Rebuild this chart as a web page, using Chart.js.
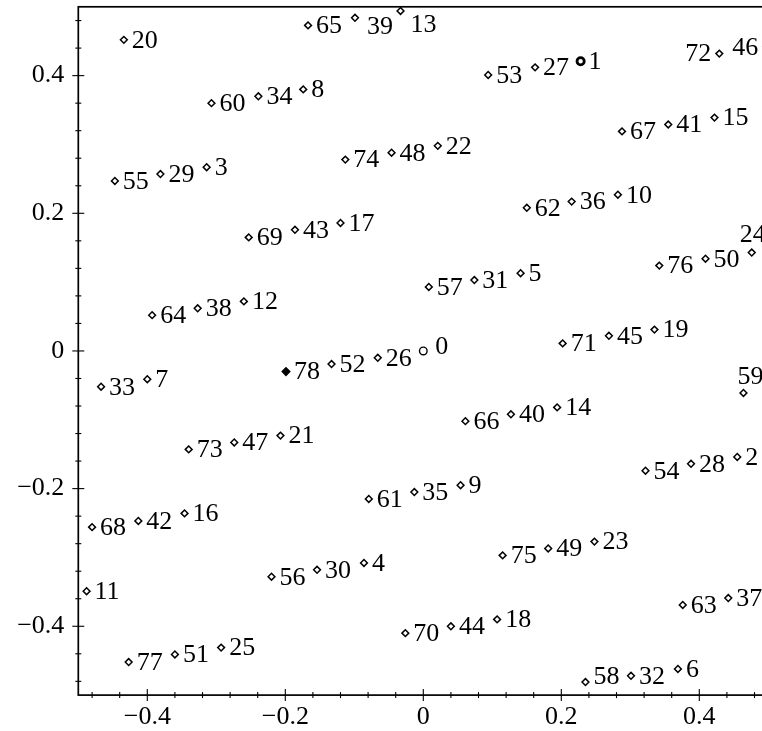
<!DOCTYPE html>
<html>
<head>
<meta charset="utf-8">
<script src="https://cdn.jsdelivr.net/npm/chart.js@4.4.1/dist/chart.umd.min.js"></script>
<style>
  html, body { margin: 0; padding: 0; overflow: hidden; background: #fff; }
  canvas { display: block; }
</style>
</head>
<body>
<canvas id="plot" width="800" height="731"></canvas>
<script>
// point n sits at (xs[n], ys[n]); its label is n
const xs = [
   0.000,  0.228,  0.455, -0.314, -0.086,  0.141,  0.369, -0.400, -0.174,  0.054,
   0.282, -0.488, -0.260, -0.033,  0.194,  0.422, -0.346, -0.120,  0.107,  0.335,
  -0.434, -0.207,  0.021,  0.248,  0.476, -0.293, -0.066,  0.162,  0.388, -0.381,
  -0.154,  0.074,  0.301, -0.467, -0.239, -0.013,  0.215,  0.442, -0.327, -0.099,
   0.127,  0.355, -0.413, -0.186,  0.040,  0.269,  0.497, -0.274, -0.046,  0.181,
   0.409, -0.360, -0.133,  0.094,  0.322, -0.447, -0.220,  0.008,  0.235,  0.464,
  -0.307, -0.079,  0.150,  0.376, -0.393, -0.167,  0.061,  0.288, -0.480, -0.253,
  -0.026,  0.202,  0.429, -0.340, -0.113,  0.115,  0.342, -0.427, -0.199
];
const ys = [
   0.000,  0.421, -0.154,  0.267, -0.308,  0.113, -0.462, -0.041,  0.380, -0.195,
   0.227, -0.349,  0.072,  0.494, -0.082,  0.339, -0.236,  0.186, -0.390,  0.031,
   0.452, -0.123,  0.298, -0.277,  0.143, -0.431, -0.010,  0.412, -0.164,  0.257,
  -0.318,  0.103, -0.472, -0.052,  0.370, -0.205,  0.217, -0.359,  0.062,  0.484,
  -0.092,  0.329, -0.247,  0.176, -0.400,  0.022,  0.442, -0.133,  0.288, -0.287,
   0.134, -0.441, -0.019,  0.401, -0.174,  0.247, -0.328,  0.093, -0.481, -0.061,
   0.360, -0.215,  0.208, -0.369,  0.052,  0.473, -0.102,  0.319, -0.256,  0.165,
  -0.410,  0.011,  0.432, -0.143,  0.278, -0.297,  0.124, -0.452, -0.030
];
const pointLabels = xs.map((_, i) => String(i));

const tickValues = [-0.48, -0.44, -0.4, -0.36, -0.32, -0.28, -0.24, -0.2, -0.16, -0.12, -0.08, -0.04,
  0, 0.04, 0.08, 0.12, 0.16, 0.2, 0.24, 0.28, 0.32, 0.36, 0.4, 0.44, 0.48];
const majorTicks = [-0.4, -0.2, 0, 0.2, 0.4];
const majorLabels = ['\u22120.4', '\u22120.2', '0', '0.2', '0.4'];

// label placement exceptions (default: right of the marker)
const labelPlace = {
  0:  { dx: 12, dy: -4, align: 'left' },
  13: { dx: 10, dy: 14, align: 'left' },
  39: { dx: 12, dy: 9, align: 'left' },
  58: { dx: 8, dy: -5, align: 'left' },
  72: { dx: -8, dy: 1, align: 'right' },
  46: { dx: -8, dy: 1, align: 'right' },
  24: { dx: 1, dy: -17, align: 'center' },
  59: { dx: 7, dy: -16, align: 'center' }
};
const markerLook = {
  0:  { style: 'circle', r: 3.8, fill: '#fff', bw: 1.4 },
  1:  { style: 'circle', r: 3.6, fill: '#fff', bw: 2.8 },
  78: { style: 'rectRot', r: 3.8, fill: '#000', bw: 1.4 }
};
const plainMarker = { style: 'rectRot', r: 3.4, fill: '#fff', bw: 1.5 };
const look = (i) => markerLook[i] || plainMarker;

const isMajor = (v) => majorTicks.some(m => Math.abs(m - v) < 1e-6);
const tickText = (v) => {
  const i = majorTicks.findIndex(m => Math.abs(m - v) < 1e-6);
  return i < 0 ? '' : majorLabels[i];
};

Chart.defaults.font.family = '"Liberation Serif", serif';
Chart.defaults.color = '#000';

const frame = {
  id: 'frame',
  afterDatasetsDraw(chart) {
    const ctx = chart.ctx;
    const meta = chart.getDatasetMeta(0);
    ctx.save();
    ctx.fillStyle = '#000';
    ctx.font = '26px "Liberation Serif"';
    ctx.textBaseline = 'middle';
    meta.data.forEach((pt, i) => {
      const p = labelPlace[i] || { dx: 8, dy: 1, align: 'left' };
      ctx.textAlign = p.align;
      ctx.fillText(pointLabels[i], pt.x + p.dx, pt.y + p.dy);
    });
    ctx.restore();
  },
  afterDraw(chart) {
    const { ctx, chartArea: a, scales } = chart;
    ctx.save();
    ctx.strokeStyle = '#000';
    ctx.lineWidth = 1.1;
    tickValues.forEach(v => {
      const len = isMajor(v) ? 6 : 3;
      const px = scales.x.getPixelForValue(v);
      ctx.beginPath();
      ctx.moveTo(px, a.bottom - len);
      ctx.lineTo(px, a.bottom + len);
      ctx.stroke();
      const py = scales.y.getPixelForValue(v);
      ctx.beginPath();
      ctx.moveTo(a.left - len, py);
      ctx.lineTo(a.left + len, py);
      ctx.stroke();
    });
    ctx.lineWidth = 1.7;
    ctx.strokeRect(a.left, a.top, a.right - a.left, a.bottom - a.top);
    ctx.restore();
  }
};

new Chart(document.getElementById('plot'), {
  type: 'scatter',
  data: {
    datasets: [{
      data: xs.map((x, i) => ({ x: x, y: ys[i] })),
      pointStyle: (c) => look(c.dataIndex).style,
      pointRadius: (c) => look(c.dataIndex).r,
      pointBackgroundColor: (c) => look(c.dataIndex).fill,
      pointBorderWidth: (c) => look(c.dataIndex).bw,
      pointBorderColor: '#000',
      clip: false
    }]
  },
  options: {
    responsive: false,
    animation: false,
    events: [],
    layout: { padding: { left: 0, right: 31.7, top: 3.5, bottom: 0 } },
    plugins: { legend: { display: false }, tooltip: { enabled: false } },
    scales: {
      x: {
        type: 'linear',
        min: -0.5,
        max: 0.5,
        afterBuildTicks: (s) => { s.ticks = tickValues.map(v => ({ value: v })); },
        afterFit: (s) => { s.height = 35.9; s.paddingLeft = 0; s.paddingRight = 0; },
        grid: { display: false, drawTicks: false },
        border: { display: false },
        ticks: {
          autoSkip: false,
          maxRotation: 0,
          padding: 6,
          font: { size: 26 },
          callback: (v) => tickText(v)
        }
      },
      y: {
        type: 'linear',
        min: -0.5,
        max: 0.5,
        afterBuildTicks: (s) => { s.ticks = tickValues.map(v => ({ value: v })); },
        afterFit: (s) => { s.width = 78.3; s.paddingTop = 0; s.paddingBottom = 0; },
        grid: { display: false, drawTicks: false },
        border: { display: false },
        ticks: {
          autoSkip: false,
          padding: 14,
          font: { size: 26 },
          callback: (v) => tickText(v)
        }
      }
    }
  },
  plugins: [frame]
});
</script>
</body>
</html>
